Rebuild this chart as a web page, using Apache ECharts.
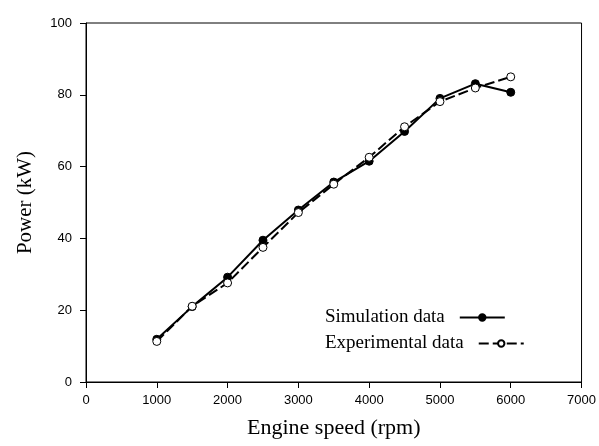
<!DOCTYPE html>
<html>
<head>
<meta charset="utf-8">
<script src="https://cdn.jsdelivr.net/npm/echarts@6/dist/echarts.min.js"></script>
<style>html,body{margin:0;padding:0;background:#fff;}#c{width:599px;height:446px;}</style>
</head>
<body>
<div id="c"></div>
<script>
var speeds = [1000, 1500, 2000, 2500, 3000, 3500, 4000, 4500, 5000, 5500, 6000];
var simulation = [11.9, 21.0, 29.2, 39.5, 47.9, 55.7, 61.5, 69.8, 79.0, 83.1, 80.7];
var experimental = [11.3, 21.1, 27.6, 37.5, 47.2, 55.1, 62.6, 71.1, 78.1, 81.9, 85.0];
var xTicks = [0, 1000, 2000, 3000, 4000, 5000, 6000, 7000];
var yTicks = [0, 20, 40, 60, 80, 100];

function pairs(xs, ys) { return xs.map(function (x, i) { return [x, ys[i]]; }); }

var legendText = {fontFamily: 'Liberation Serif', fontSize: 19, color: '#000', padding: [0, 10, 0, 0]};

var chart = echarts.init(document.getElementById('c'), null, {renderer: 'canvas'});
chart.setOption({
  animation: false,
  backgroundColor: '#fff',
  grid: {left: 86, top: 23, width: 496, height: 359, show: true, borderColor: '#000', borderWidth: 1, backgroundColor: 'transparent'},
  legend: [
    {orient: 'vertical', left: 325, top: 308, align: 'right', itemWidth: 45, itemHeight: 8, padding: 0,
     textStyle: legendText, data: ['Simulation data']},
    {orient: 'vertical', left: 325, top: 334, align: 'right', itemWidth: 45, itemHeight: 8, padding: 0,
     textStyle: legendText, data: ['Experimental data']}
  ],
  xAxis: {
    type: 'value', min: xTicks[0], max: xTicks[xTicks.length - 1], interval: 1000,
    name: 'Engine speed (rpm)', nameLocation: 'middle', nameGap: 35,
    nameTextStyle: {fontFamily: 'Liberation Serif', fontSize: 22, color: '#000'},
    axisLine: {show: true, lineStyle: {color: '#000', width: 1}},
    axisTick: {show: true, length: 6, lineStyle: {color: '#000'}},
    axisLabel: {fontFamily: 'Liberation Sans', fontSize: 13, color: '#000', margin: 12,
                formatter: function (v) { return String(v); }},
    splitLine: {show: false}
  },
  yAxis: {
    type: 'value', min: yTicks[0], max: yTicks[yTicks.length - 1], interval: 20,
    name: 'Power (kW)', nameLocation: 'middle', nameGap: 50,
    nameTextStyle: {fontFamily: 'Liberation Serif', fontSize: 21, color: '#000'},
    axisLine: {show: true, lineStyle: {color: '#000', width: 1}},
    axisTick: {show: true, length: 6, lineStyle: {color: '#000'}},
    axisLabel: {fontFamily: 'Liberation Sans', fontSize: 13, color: '#000', margin: 14,
                formatter: function (v) { return String(v); }},
    splitLine: {show: false}
  },
  series: [
    {
      name: 'Simulation data', type: 'line', data: pairs(speeds, simulation),
      symbol: 'circle', symbolSize: 8, showAllSymbol: true,
      lineStyle: {color: '#000', width: 2, type: 'solid'},
      itemStyle: {color: '#000', borderColor: '#000', borderWidth: 1}
    },
    {
      name: 'Experimental data', type: 'line', data: pairs(speeds, experimental),
      symbol: 'circle', symbolSize: 8, showAllSymbol: true,
      lineStyle: {color: '#000', width: 2, type: [10, 4]},
      itemStyle: {color: '#fff', borderColor: '#000', borderWidth: 1}
    }
  ]
});
</script>
</body>
</html>
